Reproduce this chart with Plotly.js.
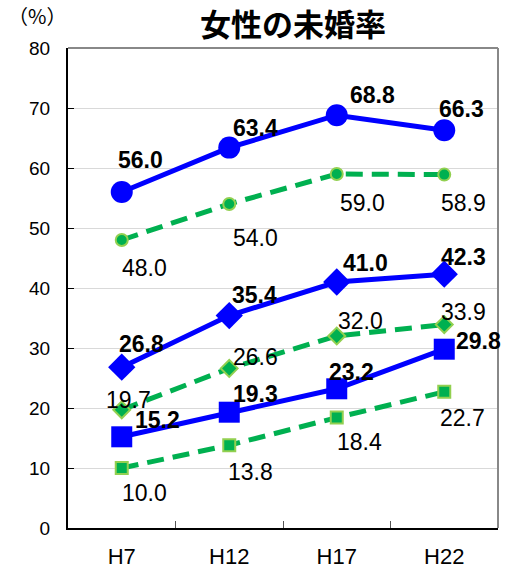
<!DOCTYPE html>
<html><head><meta charset="utf-8">
<script src="https://cdn.plot.ly/plotly-3.0.1.min.js"></script>
<style>html,body{margin:0;padding:0;background:#fff;}#chart{width:516px;height:572px;}</style>
</head><body><div id="chart"></div>
<script>
// ---- data ----
const categories = ["H7", "H12", "H17", "H22"];
const seriesA = [56.0, 63.4, 68.8, 66.3];   // blue circles
const seriesB = [48.0, 54.0, 59.0, 58.9];   // green circles (dashed)
const seriesC = [26.8, 35.4, 41.0, 42.3];   // blue diamonds
const seriesD = [19.7, 26.6, 32.0, 33.9];   // green diamonds (dashed)
const seriesE = [15.2, 19.3, 23.2, 29.8];   // blue squares
const seriesF = [10.0, 13.8, 18.4, 22.7];   // green squares (dashed)
const yTicks = [0, 10, 20, 30, 40, 50, 60, 70, 80];
const titleText = "女性の未婚率";
const unitText = "（%）";

// ---- styles ----
const BLUE = "#0000FF", GREEN = "#00B050", LIME = "#92D050";
const FONT = "Liberation Sans, Arial, sans-serif";
function blue(vals, sym) {
  return {x: categories, y: vals, type: "scatter", mode: "lines+markers",
    line: {color: BLUE, width: 5}, marker: {symbol: sym, size: sym === "circle" ? 22 : 21, color: BLUE}, hoverinfo: "skip"};
}
function green(vals, sym) {
  return {x: categories, y: vals, type: "scatter", mode: "lines+markers",
    line: {color: GREEN, width: 5, dash: "17px,9px"},
    marker: {symbol: sym, size: sym === "diamond" ? 13 : 12, color: GREEN, line: {color: LIME, width: 2}}, hoverinfo: "skip"};
}
const traces = [green(seriesB, "circle"), green(seriesD, "diamond"), green(seriesF, "square"),
                blue(seriesA, "circle"), blue(seriesC, "diamond"), blue(seriesE, "square")];

// label offsets in px [dx, dy(down)]
const labelSets = [
  {vals: seriesA, bold: true,  off: [[19,-32],[26,-20],[36,-20],[17,-21]]},
  {vals: seriesB, bold: false, off: [[23,28],[26,34],[26,29],[19,28]]},
  {vals: seriesC, bold: true,  off: [[20,-23],[25,-21],[29,-19],[19,-17]]},
  {vals: seriesD, bold: false, off: [[7,-10],[26,-11],[24,-15],[19,-13]]},
  {vals: seriesE, bold: true,  off: [[36,-17],[26,-18],[15,-17],[34,-8]]},
  {vals: seriesF, bold: false, off: [[23,25],[21,27],[23,24],[18,26]]}
];
const annotations = [];
labelSets.forEach(s => s.vals.forEach((v, i) => {
  annotations.push({x: categories[i], y: v, xref: "x", yref: "y", text: v.toFixed(1), showarrow: false,
    xshift: s.off[i][0], yshift: -s.off[i][1], xanchor: "center", yanchor: "middle",
    font: {family: FONT, size: 23, color: "#000", weight: s.bold ? "bold" : "normal"}});
}));
annotations.push({xref: "paper", yref: "paper", x: -0.145, y: 1.067, xanchor: "left", yanchor: "middle",
  text: unitText, showarrow: false, font: {family: "Noto Sans CJK JP, sans-serif", size: 20, color: "#000"}});

const layout = {
  width: 516, height: 572,
  margin: {l: 68, r: 18, t: 48, b: 44},
  paper_bgcolor: "#fff", plot_bgcolor: "#fff",
  showlegend: false,
  title: {text: titleText, x: 0.568, xanchor: "center", y: 0.956, yanchor: "middle",
    font: {family: "Noto Sans CJK JP, sans-serif", size: 31, color: "#000", weight: "bold"}},
  xaxis: {type: "category", categoryorder: "array", categoryarray: categories,
    range: [-0.5, 3.5], showgrid: false, zeroline: false,
    showline: true, linecolor: "#000", linewidth: 2,
    ticks: "inside", tickson: "boundaries", ticklen: 7, tickcolor: "#555", tickwidth: 1,
    tickfont: {family: FONT, size: 22, color: "#000"}, ticklabelstandoff: 8},
  yaxis: {range: [0, 80], tickvals: yTicks, showgrid: true, gridcolor: "#d9d9d9", gridwidth: 1,
    zeroline: false, showline: true, linecolor: "#000", linewidth: 2,
    ticks: "inside", ticklen: 6, tickcolor: "#000", tickwidth: 1,
    tickfont: {family: FONT, size: 19, color: "#000"}, ticklabelstandoff: 12},
  shapes: [
    {type: "line", xref: "paper", yref: "paper", x0: 0, x1: 1, y0: 1, y1: 1, line: {color: "#888", width: 2}},
    {type: "line", xref: "paper", yref: "paper", x0: 1, x1: 1, y0: 0, y1: 1, line: {color: "#888", width: 2}}
  ],
  annotations: annotations
};
Plotly.newPlot("chart", traces, layout, {displayModeBar: false, staticPlot: true});
</script></body></html>
